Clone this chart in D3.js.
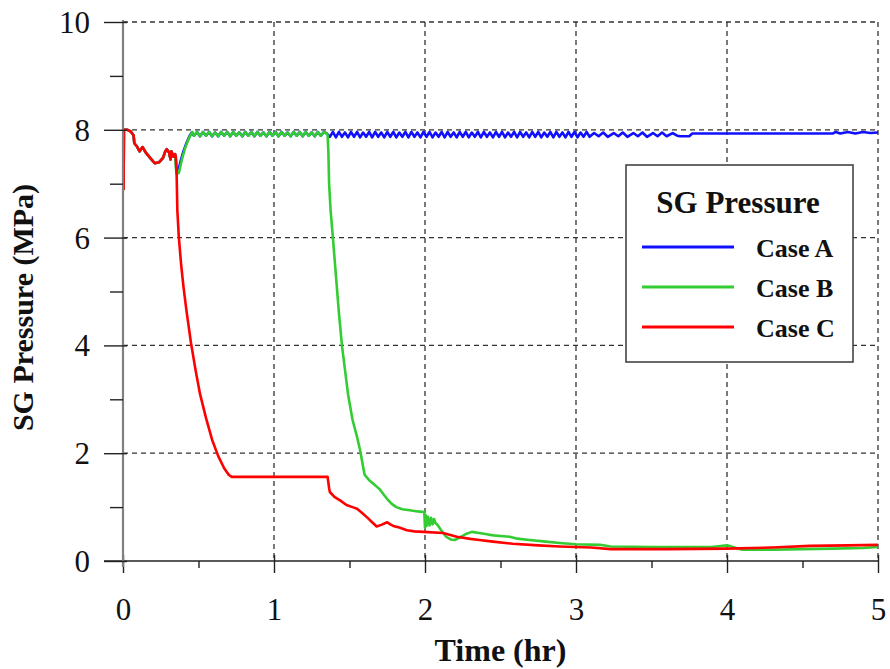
<!DOCTYPE html>
<html>
<head>
<meta charset="utf-8">
<script src="https://cdn.jsdelivr.net/npm/d3@7"></script>
<style>
  html, body { margin: 0; padding: 0; background: #fff; }
  svg { display: block; font-family: "Liberation Serif", "Times New Roman", serif; }
</style>
</head>
<body>
<svg id="chart" width="890" height="669"></svg>
<script>
// Shared start-up transient (all three cases coincide until ~0.35 hr)
const commonStart = [
  [0.0, 6.9], [0.004, 6.9], [0.006, 8.0], [0.03, 8.0], [0.05, 7.97], [0.07, 7.9],
  [0.075, 7.75], [0.09, 7.7], [0.11, 7.6], [0.13, 7.68], [0.15, 7.58], [0.18, 7.48],
  [0.21, 7.38], [0.24, 7.4], [0.265, 7.48], [0.28, 7.6], [0.29, 7.64], [0.305, 7.58],
  [0.315, 7.45], [0.32, 7.6], [0.335, 7.5], [0.345, 7.55]
];

// Relief-valve cycling around 7.9 MPa while the SG is isolated
const cyclingB = [
  [0.47, 7.89], [0.49, 7.96], [0.51, 7.88], [0.53, 7.96], [0.55, 7.89], [0.57, 7.96],
  [0.59, 7.88], [0.61, 7.95], [0.63, 7.88], [0.65, 7.96], [0.67, 7.89], [0.69, 7.96],
  [0.71, 7.88], [0.73, 7.96], [0.75, 7.89], [0.77, 7.95], [0.79, 7.88], [0.81, 7.96],
  [0.83, 7.89], [0.85, 7.96], [0.87, 7.88], [0.89, 7.96], [0.91, 7.89], [0.93, 7.95],
  [0.95, 7.88], [0.97, 7.96], [0.99, 7.89], [1.01, 7.96], [1.03, 7.88], [1.05, 7.96],
  [1.07, 7.89], [1.09, 7.95], [1.11, 7.88], [1.13, 7.96], [1.15, 7.89], [1.17, 7.96],
  [1.19, 7.88], [1.21, 7.96], [1.23, 7.89], [1.25, 7.95], [1.27, 7.88], [1.29, 7.96],
  [1.31, 7.89], [1.33, 7.96], [1.35, 7.93]
];

const cyclingA = [
  [1.37, 7.87], [1.39, 7.96], [1.41, 7.86], [1.43, 7.96], [1.45, 7.87], [1.47, 7.95],
  [1.49, 7.86], [1.51, 7.96], [1.53, 7.87], [1.55, 7.96], [1.57, 7.86], [1.59, 7.95],
  [1.61, 7.87], [1.63, 7.96], [1.65, 7.86], [1.67, 7.96], [1.69, 7.87], [1.71, 7.95],
  [1.73, 7.86], [1.75, 7.96], [1.77, 7.87], [1.79, 7.96], [1.81, 7.86], [1.83, 7.95],
  [1.85, 7.87], [1.87, 7.96], [1.89, 7.86], [1.91, 7.96], [1.93, 7.87], [1.95, 7.95],
  [1.97, 7.86], [1.99, 7.96], [2.01, 7.87], [2.03, 7.96], [2.05, 7.86], [2.07, 7.95],
  [2.09, 7.87], [2.11, 7.96], [2.13, 7.86], [2.15, 7.96], [2.17, 7.87], [2.19, 7.95],
  [2.21, 7.86], [2.23, 7.96], [2.25, 7.87], [2.27, 7.96], [2.29, 7.86], [2.31, 7.95],
  [2.33, 7.87], [2.35, 7.96], [2.37, 7.86], [2.39, 7.96], [2.41, 7.87], [2.43, 7.95],
  [2.45, 7.86], [2.47, 7.96], [2.49, 7.87], [2.51, 7.96], [2.53, 7.86], [2.55, 7.95],
  [2.57, 7.87], [2.59, 7.96], [2.61, 7.86], [2.63, 7.96], [2.65, 7.87], [2.67, 7.95],
  [2.69, 7.86], [2.71, 7.96], [2.73, 7.87], [2.75, 7.96], [2.77, 7.86], [2.79, 7.95],
  [2.81, 7.87], [2.83, 7.96], [2.85, 7.86], [2.87, 7.96], [2.89, 7.87], [2.91, 7.95],
  [2.93, 7.86], [2.95, 7.96], [2.97, 7.87], [2.99, 7.96], [3.01, 7.86], [3.03, 7.95],
  [3.05, 7.87], [3.07, 7.96], [3.09, 7.87],
  [3.12, 7.94], [3.15, 7.88], [3.18, 7.95], [3.21, 7.87], [3.25, 7.94], [3.28, 7.88],
  [3.31, 7.95], [3.34, 7.87], [3.38, 7.94], [3.41, 7.88], [3.44, 7.95], [3.47, 7.87],
  [3.51, 7.94], [3.54, 7.88], [3.57, 7.95], [3.60, 7.88], [3.64, 7.94], [3.67, 7.89],
  [3.69, 7.88]
];

const caseA = commonStart.concat([
  [0.35, 7.45], [0.355, 7.2], [0.365, 7.22], [0.38, 7.4], [0.40, 7.6], [0.42, 7.75],
  [0.44, 7.88], [0.455, 7.95]
], cyclingB, cyclingA, [
  [3.75, 7.88], [3.77, 7.93], [4.70, 7.93], [4.72, 7.96], [4.75, 7.93], [4.80, 7.96],
  [4.85, 7.93], [4.90, 7.96], [4.95, 7.94], [5.0, 7.95]
]);

const caseB = commonStart.concat([
  [0.35, 7.3], [0.355, 7.18], [0.37, 7.2], [0.39, 7.45], [0.41, 7.65], [0.43, 7.8],
  [0.45, 7.92], [0.46, 7.96]
], cyclingB, [
  [1.355, 7.9], [1.36, 7.6], [1.365, 7.0], [1.375, 6.5], [1.39, 6.0], [1.41, 5.3],
  [1.43, 4.6], [1.45, 4.0], [1.47, 3.55], [1.49, 3.1], [1.52, 2.62], [1.55, 2.3],
  [1.57, 2.06], [1.59, 1.75], [1.60, 1.6], [1.63, 1.5], [1.66, 1.43], [1.68, 1.38],
  [1.70, 1.33], [1.73, 1.22], [1.75, 1.15], [1.78, 1.06], [1.81, 1.0], [1.85, 0.96],
  [1.90, 0.94], [1.95, 0.92], [1.995, 0.91], [2.0, 0.62], [2.005, 0.85], [2.01, 0.65],
  [2.02, 0.82], [2.03, 0.66], [2.04, 0.8], [2.05, 0.68], [2.06, 0.78], [2.07, 0.7],
  [2.08, 0.68], [2.10, 0.6], [2.12, 0.52], [2.14, 0.45], [2.17, 0.4], [2.20, 0.39],
  [2.23, 0.44], [2.27, 0.5], [2.31, 0.54], [2.36, 0.52], [2.42, 0.49], [2.47, 0.47],
  [2.52, 0.46], [2.56, 0.45], [2.60, 0.42], [2.69, 0.39], [2.80, 0.36], [2.91, 0.33],
  [3.00, 0.31], [3.16, 0.3], [3.23, 0.27], [3.50, 0.26], [3.90, 0.26], [4.00, 0.29],
  [4.05, 0.25], [4.10, 0.21], [4.30, 0.21], [4.50, 0.22], [4.70, 0.23], [4.90, 0.24],
  [5.0, 0.26]
]);

const caseC = commonStart.concat([
  [0.35, 7.5], [0.355, 7.2], [0.36, 6.5], [0.37, 6.0], [0.385, 5.5], [0.40, 5.1],
  [0.42, 4.65], [0.45, 4.05], [0.48, 3.55], [0.51, 3.1], [0.55, 2.65], [0.59, 2.25],
  [0.63, 1.95], [0.67, 1.72], [0.70, 1.6], [0.72, 1.56], [1.355, 1.56], [1.365, 1.35],
  [1.37, 1.28], [1.40, 1.19], [1.44, 1.12], [1.48, 1.04], [1.52, 1.0], [1.55, 0.97],
  [1.58, 0.9], [1.62, 0.8], [1.65, 0.72], [1.68, 0.64], [1.71, 0.67], [1.75, 0.72],
  [1.77, 0.68], [1.79, 0.65], [1.83, 0.62], [1.88, 0.57], [1.93, 0.55], [1.99, 0.54],
  [2.12, 0.52], [2.21, 0.45], [2.30, 0.41], [2.36, 0.39], [2.45, 0.36], [2.58, 0.32],
  [2.75, 0.29], [2.89, 0.27], [3.10, 0.25], [3.23, 0.22], [3.60, 0.22], [4.00, 0.23],
  [4.30, 0.25], [4.55, 0.28], [4.80, 0.29], [5.0, 0.3]
]);

const seriesNames = ["Case A", "Case B", "Case C"];
const seriesColors = ["#1010ff", "#33cc33", "#ff0000"];
const legendTitle = "SG Pressure";
const xMajorTicks = [0, 1, 2, 3, 4, 5];
const xMinorTicks = [0.5, 1.5, 2.5, 3.5, 4.5];
const yMajorTicks = [0, 2, 4, 6, 8, 10];
const yMinorTicks = [1, 3, 5, 7, 9];
const xTitle = "Time (hr)";
const yTitle = "SG Pressure (MPa)";

const svg = d3.select("#chart");
const plotLeft = 123, plotRight = 878, plotTop = 22, plotBottom = 561;

const x = d3.scaleLinear().domain([0, 5]).range([plotLeft, plotRight]);
const y = d3.scaleLinear().domain([0, 10]).range([plotBottom, plotTop]);

// dashed grid
const grid = svg.append("g").attr("stroke", "#333").attr("stroke-width", 1.3)
  .attr("stroke-dasharray", "5,4");
grid.selectAll("line.h").data(yMajorTicks.filter(d => d > 0)).join("line")
  .attr("class", "h")
  .attr("x1", plotLeft).attr("x2", plotRight)
  .attr("y1", d => y(d)).attr("y2", d => y(d));
grid.selectAll("line.v").data(xMajorTicks.filter(d => d > 0)).join("line")
  .attr("class", "v")
  .attr("x1", d => x(d)).attr("x2", d => x(d))
  .attr("y1", plotTop).attr("y2", plotBottom);

// curves: A first, then B, then C on top
const line = d3.line().x(d => x(d[0])).y(d => y(d[1]));
[caseA, caseB, caseC].forEach((data, i) => {
  svg.append("path").datum(data)
    .attr("fill", "none")
    .attr("stroke", seriesColors[i])
    .attr("stroke-width", 2.6)
    .attr("stroke-linejoin", "round")
    .attr("d", line);
});

const fontStack = "'Liberation Serif', 'Times New Roman', serif";

// x axis
const xAxisMajor = svg.append("g").attr("transform", `translate(0,${plotBottom})`)
  .call(d3.axisBottom(x).tickValues(xMajorTicks).tickSize(12).tickSizeOuter(0)
    .tickFormat(d3.format("d")));
xAxisMajor.select(".domain").attr("stroke", "#222").attr("stroke-width", 1.6)
  .attr("d", `M${plotLeft - 19},0H${plotRight}`);
xAxisMajor.selectAll(".tick line").attr("y1", -6).attr("y2", 12)
  .attr("stroke", "#222").attr("stroke-width", 1.4);
xAxisMajor.selectAll(".tick text").attr("y", 59).attr("dy", 0)
  .attr("font-size", 31).attr("fill", "#111").attr("font-family", fontStack);

const xAxisMinor = svg.append("g").attr("transform", `translate(0,${plotBottom})`)
  .call(d3.axisBottom(x).tickValues(xMinorTicks).tickSize(7).tickFormat(""));
xAxisMinor.select(".domain").remove();
xAxisMinor.selectAll(".tick line").attr("stroke", "#222").attr("stroke-width", 1.4);

// y axis
const yAxisMajor = svg.append("g").attr("transform", `translate(${plotLeft},0)`)
  .call(d3.axisLeft(y).tickValues(yMajorTicks).tickSize(19).tickSizeOuter(0)
    .tickFormat(d3.format("d")));
yAxisMajor.select(".domain").attr("stroke", "#808080").attr("stroke-width", 2.2)
  .attr("d", `M0,${plotTop - 2}V${plotBottom + 6}`);
yAxisMajor.selectAll(".tick line").attr("x1", 4).attr("x2", -19)
  .attr("stroke", "#222").attr("stroke-width", 1.4);
yAxisMajor.selectAll(".tick text").attr("x", -33).attr("dy", "0.34em")
  .attr("font-size", 31).attr("fill", "#111").attr("font-family", fontStack);

const yAxisMinor = svg.append("g").attr("transform", `translate(${plotLeft},0)`)
  .call(d3.axisLeft(y).tickValues(yMinorTicks).tickSize(13).tickFormat(""));
yAxisMinor.select(".domain").remove();
yAxisMinor.selectAll(".tick line").attr("stroke", "#222").attr("stroke-width", 1.4);

// axis titles
svg.append("text")
  .attr("x", (plotLeft + plotRight) / 2).attr("y", 661)
  .attr("text-anchor", "middle").attr("font-size", 32).attr("font-weight", "bold")
  .attr("fill", "#111").text(xTitle);
svg.append("text")
  .attr("transform", `translate(33,${(plotTop + plotBottom) / 2 + 16}) rotate(-90)`)
  .attr("text-anchor", "middle").attr("font-size", 30).attr("font-weight", "bold")
  .attr("fill", "#111").text(yTitle);

// legend
const lg = svg.append("g");
lg.append("rect").attr("x", 626).attr("y", 165).attr("width", 227).attr("height", 197)
  .attr("fill", "#fff").attr("stroke", "#444").attr("stroke-width", 1.6);
lg.append("text").attr("x", 738).attr("y", 213).attr("text-anchor", "middle")
  .attr("font-size", 31).attr("font-weight", "bold").attr("fill", "#111").text(legendTitle);
seriesNames.forEach((name, i) => {
  const yy = 247 + i * 40;
  lg.append("line").attr("x1", 642).attr("x2", 734).attr("y1", yy).attr("y2", yy)
    .attr("stroke", seriesColors[i]).attr("stroke-width", 3);
  lg.append("text").attr("x", 756).attr("y", yy + 10)
    .attr("font-size", 26).attr("font-weight", "bold").attr("fill", "#111").text(name);
});
</script>
</body>
</html>
